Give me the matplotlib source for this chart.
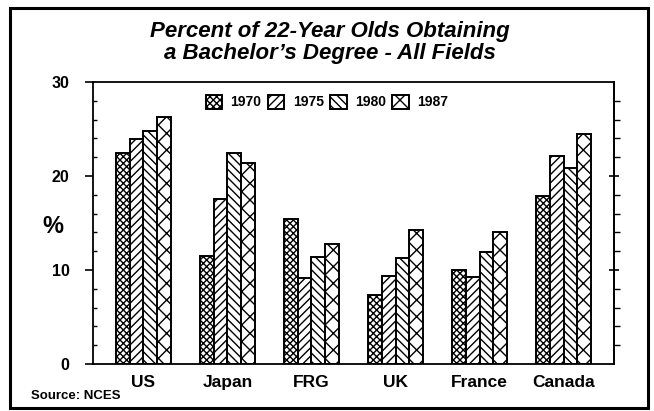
import matplotlib.pyplot as plt
import numpy as np
from matplotlib.patches import Rectangle

plt.rcParams['font.family'] = ['Liberation Sans', 'DejaVu Sans']
plt.rcParams['hatch.linewidth'] = 1.0

countries = ["US", "Japan", "FRG", "UK", "France", "Canada"]
years = ["1970", "1975", "1980", "1987"]
pct_1970 = [22.5, 11.5, 15.4, 7.3, 10.0, 17.9]
pct_1975 = [23.9, 17.6, 9.1, 9.4, 9.3, 22.1]
pct_1980 = [24.8, 22.5, 11.4, 11.3, 11.9, 20.8]
pct_1987 = [26.3, 21.4, 12.8, 14.3, 14.0, 24.5]
hatches = ["xxxxx", "////", "\\\\\\\\", "xx"]

fig = plt.figure(figsize=(6.54, 4.11), dpi=100)
ax = fig.add_axes([0.1422, 0.1144, 0.7966, 0.686])

x = np.arange(len(countries))
w = 0.163
series = [pct_1970, pct_1975, pct_1980, pct_1987]
for i, vals in enumerate(series):
    ax.bar(x + (i - 1.5) * w, vals, w, facecolor="white", edgecolor="black",
           linewidth=1.4, hatch=hatches[i], label=years[i])

ax.set_xlim(-0.6, 5.6)
ax.set_ylim(0, 30)
ax.set_xticks(x)
ax.set_xticklabels(countries, fontsize=12.5, fontweight="bold")
ax.tick_params(axis="x", length=0, pad=8)

# left axis: labelled major ticks outward, small minor ticks inward
ax.set_yticks([0, 10, 20, 30])
ax.set_yticklabels(["0", "10", "20", "30"], fontsize=11.5, fontweight="bold")
ax.set_yticks(np.arange(2, 30, 2), minor=True)
ax.tick_params(axis="y", which="major", direction="out", length=6, width=1.2,
               pad=11)
ax.tick_params(axis="y", which="minor", direction="in", length=3, width=1)
for s in ax.spines.values():
    s.set_linewidth(1.3)

# right axis: ticks pointing outward, no labels
sec = ax.secondary_yaxis("right")
sec.set_yticks([10, 20])
sec.set_yticks(np.arange(2, 30, 2), minor=True)
sec.tick_params(which="major", direction="inout", length=7, width=1.2,
                labelright=False)
sec.tick_params(which="minor", direction="out", length=4, width=1)
sec.spines["right"].set_linewidth(1.3)

ax.text(-0.077, 0.489, "%", transform=ax.transAxes, fontsize=17,
        fontweight="bold", ha="center", va="center")

leg = ax.legend(loc="upper center", bbox_to_anchor=(0.449, 1.0), ncol=4,
                frameon=False, fontsize=10, handlelength=1.2,
                handleheight=1.2, columnspacing=0.45, handletextpad=0.6)
for t in leg.get_texts():
    t.set_fontweight("bold")

fig.text(0.505, 0.950, "Percent of 22-Year Olds Obtaining\na Bachelor\u2019s Degree - All Fields",
         ha="center", va="top", fontsize=16, fontweight="bold",
         fontstyle="italic", linespacing=1.08)
fig.text(0.048, 0.022, "Source: NCES", fontsize=9.5, fontweight="bold",
         ha="left", va="bottom")

fig.patches.append(Rectangle((0.016, 0.008), 0.975, 0.972, transform=fig.transFigure,
                             fill=False, edgecolor="black", linewidth=2.2))

fig.savefig("out.png", dpi=100)
